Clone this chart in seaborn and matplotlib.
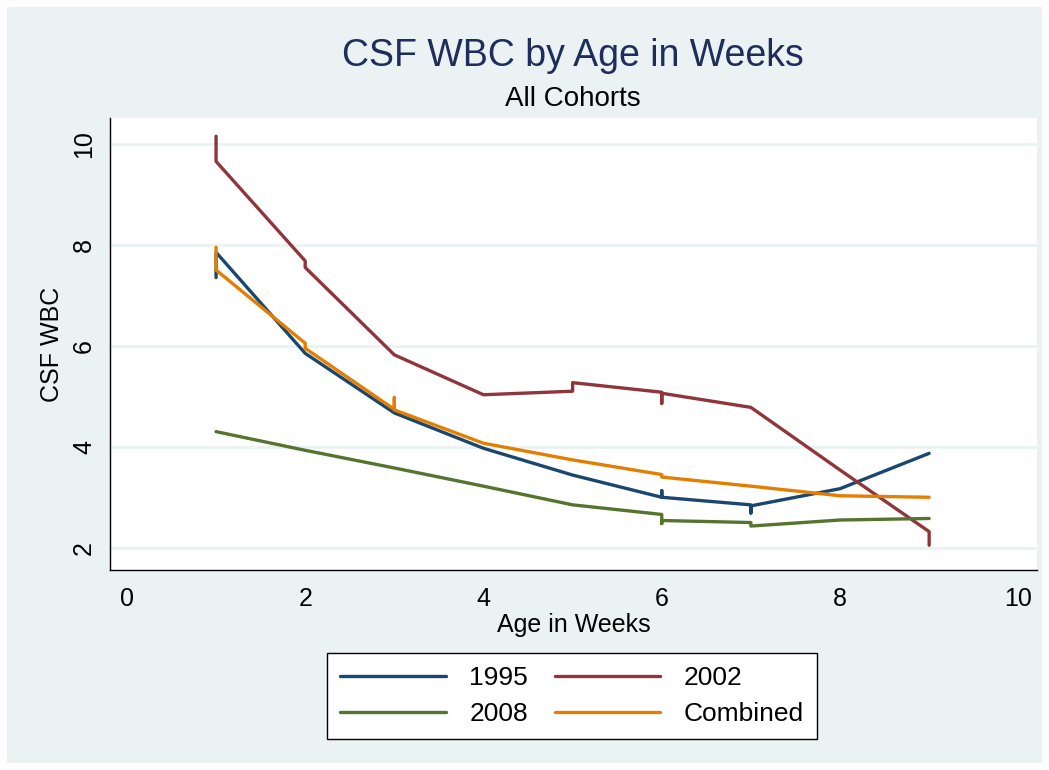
import pandas as pd
import seaborn as sns
import matplotlib.pyplot as plt
from matplotlib.patches import Rectangle

# Data (several observations per week give the vertical jumps)
week_1995 = [1, 1, 2, 3, 4, 5, 6, 6, 6, 7, 7, 7, 8, 9]
wbc_1995 = [7.35, 7.85, 5.85, 4.67, 3.97, 3.44, 3.0, 3.13, 3.0, 2.85, 2.69, 2.83, 3.17, 3.87]

week_2002 = [1, 1, 2, 2, 3, 4, 5, 5, 6, 6, 6, 7, 8, 9, 9]
wbc_2002 = [10.15, 9.65, 7.68, 7.55, 5.82, 5.03, 5.1, 5.27, 5.08, 4.86, 5.06, 4.78, 3.54, 2.32, 2.05]

week_2008 = [1, 2, 3, 4, 5, 6, 6, 6, 7, 7, 8, 9]
wbc_2008 = [4.3, 3.93, 3.58, 3.22, 2.85, 2.66, 2.48, 2.54, 2.5, 2.43, 2.55, 2.58]

week_comb = [1, 1, 2, 2, 3, 3, 3, 4, 5, 6, 6, 7, 8, 9]
wbc_comb = [7.95, 7.5, 6.05, 5.95, 4.74, 4.97, 4.73, 4.07, 3.74, 3.45, 3.4, 3.22, 3.03, 3.0]

cohorts = ['1995', '2002', '2008', 'Combined']
colors = ['#1A476F', '#90353B', '#55752F', '#E37E00']

frames = []
for name, w, v in zip(cohorts,
                      [week_1995, week_2002, week_2008, week_comb],
                      [wbc_1995, wbc_2002, wbc_2008, wbc_comb]):
    frames.append(pd.DataFrame({'week': w, 'wbc': v, 'cohort': name}))
df = pd.concat(frames, ignore_index=True)

sns.set_style('white')
plt.rcParams['font.family'] = ['Liberation Sans', 'DejaVu Sans']

bg = '#EAF2F3'
fig = plt.figure(figsize=(10.49, 7.70), dpi=100)
fig.patch.set_facecolor('white')
fig.patches.append(Rectangle((7 / 1049, 7 / 770), 1035 / 1049, 756 / 770,
                             transform=fig.transFigure, facecolor=bg,
                             edgecolor='none', zorder=-10))

ax = fig.add_axes([110 / 1049, 1 - 570 / 770, 927 / 1049, 452 / 770])
ax.set_facecolor('white')

sns.lineplot(data=df, x='week', y='wbc', hue='cohort', hue_order=cohorts,
             palette=colors, estimator=None, sort=False, linewidth=2.4,
             legend=False, ax=ax)

ax.set_xlim(-0.19, 10.21)
ax.set_ylim(1.56, 10.51)
ax.set_xticks([0, 2, 4, 6, 8, 10])
ax.set_yticks([2, 4, 6, 8, 10])
ax.yaxis.grid(True, color=bg, linewidth=2)
ax.set_axisbelow(True)

for side in ['top', 'right']:
    ax.spines[side].set_visible(False)
for side in ['left', 'bottom']:
    ax.spines[side].set_color('black')
    ax.spines[side].set_linewidth(1)

ax.tick_params(axis='both', direction='out', length=8, width=1,
               color='black', labelsize=18, labelcolor='black')
ax.tick_params(axis='y', pad=2)
ax.tick_params(axis='x', pad=4)
plt.setp(ax.get_yticklabels(), rotation=90, va='center')

ax.set_xlabel('Age in Weeks', fontsize=18, labelpad=2, color='black')
ax.set_ylabel('CSF WBC', fontsize=18, labelpad=6, color='black')

fig.text(573 / 1049, 1 - 56 / 770, 'CSF WBC by Age in Weeks', ha='center',
         va='center', fontsize=27, color='#1E2D5C')
fig.text(573 / 1049, 1 - 99 / 770, 'All Cohorts', ha='center', va='center',
         fontsize=20, color='black')

handles = ax.get_lines()[:4]
order = [0, 2, 1, 3]
leg = fig.legend([handles[i] for i in order], [cohorts[i] for i in order],
                 ncol=2, loc='center', bbox_to_anchor=(572 / 1049, 1 - 696 / 770),
                 fontsize=19, frameon=True, fancybox=False, framealpha=1,
                 handlelength=4.0, columnspacing=1.0, handletextpad=0.9,
                 borderpad=0.5, labelspacing=0.45)
leg.get_frame().set_edgecolor('black')
leg.get_frame().set_linewidth(1)
leg.get_frame().set_facecolor('white')
for t in leg.get_texts():
    t.set_color('black')

fig.savefig('out.png', dpi=100, facecolor=fig.get_facecolor())
